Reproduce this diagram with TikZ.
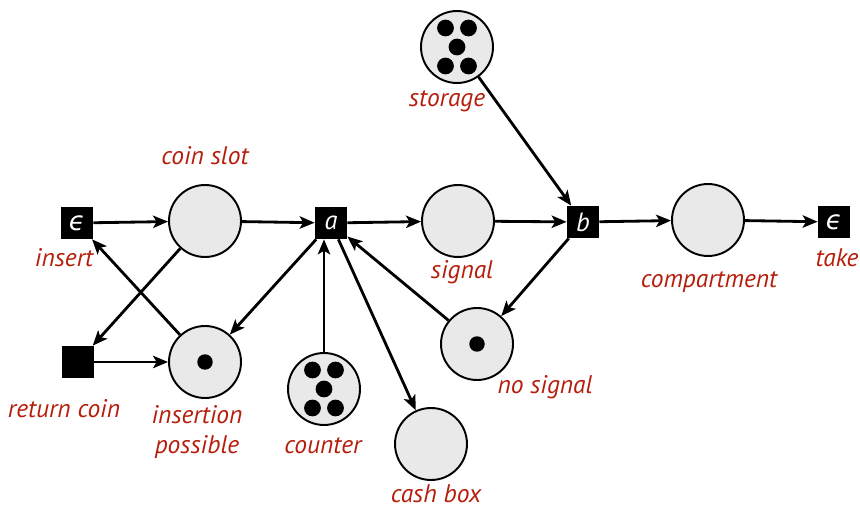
\documentclass[tikz,border=0pt]{standalone}
\usepackage{fontspec}
\setmainfont{PT Sans}
\newfontfamily\greekfont{DejaVu Sans}
\usetikzlibrary{arrows.meta}
\definecolor{labelred}{RGB}{182,30,12}
\definecolor{placefill}{RGB}{233,233,233}

\begin{document}
\begin{tikzpicture}[x=0.02cm,y=-0.02cm,
  place/.style={circle,draw,line width=1.1pt,fill=placefill,minimum size=1.44cm,inner sep=0pt},
  trans/.style={rectangle,fill=black,minimum size=0.64cm,inner sep=0pt,text=white,
                font=\itshape\fontsize{15}{15}\selectfont},
  lab/.style={text=labelred,font=\itshape\fontsize{14.5}{17}\selectfont,align=center},
  arc/.style={-{Stealth[length=8.5pt,width=7pt,inset=2pt]},line width=1.6pt},
  tok/.style={fill=black}
]
\useasboundingbox (0,0) rectangle (860,510);

% transitions
\node[trans] (insert) at (77,223) {{\greekfont ϵ}};
\node[trans] (ret)    at (78,362) {};
\node[trans] (a)      at (331,223) {a};
\node[trans] (b)      at (583,222) {b};
\node[trans] (take)   at (834,222) {{\greekfont ϵ}};

% places
\node[place] (slot)    at (205,221) {};
\node[place] (poss)    at (205,362) {};
\node[place] (signal)  at (458,221) {};
\node[place] (nosig)   at (477,344) {};
\node[place] (counter) at (324,389) {};
\node[place] (cash)    at (431,444) {};
\node[place] (storage) at (457,47)  {};
\node[place] (comp)    at (708,220) {};

% tokens
\fill[tok] (poss.center) circle (0.155cm);
\fill[tok] (nosig.center) circle (0.155cm);
\foreach \p in {counter,storage}{
  \fill[tok] ([shift={(-11.5,-19)}]\p.center) circle (0.168cm);
  \fill[tok] ([shift={(11.5,-19)}]\p.center) circle (0.168cm);
  \fill[tok] (\p.center) circle (0.168cm);
  \fill[tok] ([shift={(-11.5,19)}]\p.center) circle (0.168cm);
  \fill[tok] ([shift={(11.5,19)}]\p.center) circle (0.168cm);
}

% arcs
\draw[arc] (insert) -- (slot);
\draw[arc] (slot) -- (a);
\draw[arc] (a) -- (signal);
\draw[arc] (signal) -- (b);
\draw[arc] (b) -- (comp);
\draw[arc] (comp) -- (take);
\draw[arc] (storage) -- (b);
\draw[arc] (b) -- (nosig);
\draw[arc] (nosig) -- (a);
\draw[arc] (counter) -- (counter |- a.south);
\draw[arc] (a) -- (cash);
\draw[arc] (a) -- (poss);
\draw[arc] (poss) -- (insert);
\draw[arc] (slot) -- (ret);
\draw[arc] (ret) -- (poss);

% labels
\node[lab] (l-insert)  at (64,258)  {insert};
\node[lab] (l-ret)     at (64,409)  {return coin};
\node[lab] (l-poss)    at (197,432) {insertion\\possible};
\node[lab] (l-slot)    at (205,156) {coin slot};
\node[lab] (l-counter) at (323,446) {counter};
\node[lab] (l-cash)    at (436,494) {cash box};
\node[lab] (l-signal)  at (462,272) {signal};
\node[lab] (l-nosig)   at (545,387) {no signal};
\node[lab] (l-storage) at (447,101) {storage};
\node[lab] (l-comp)    at (709,282) {compartment};
\node[lab] (l-take)    at (837,258) {take};
\end{tikzpicture}
\end{document}
